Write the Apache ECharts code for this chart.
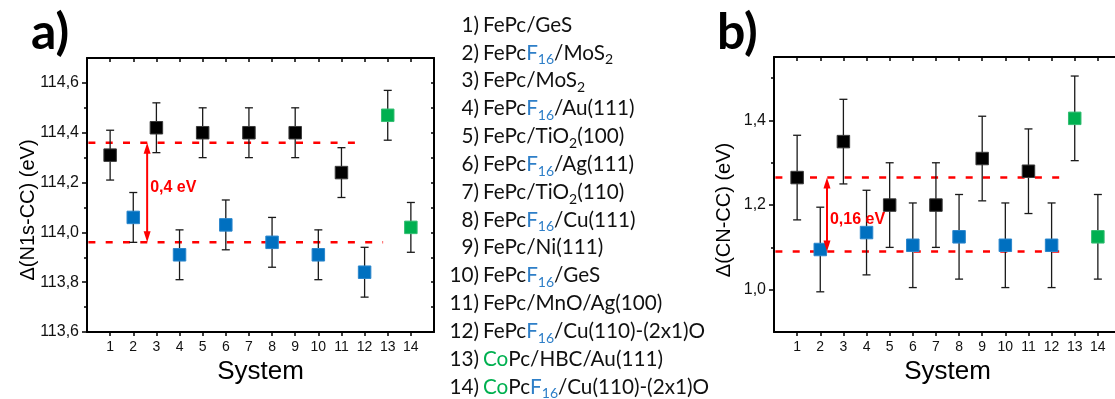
<!DOCTYPE html>
<html>
<head>
<meta charset="utf-8">
<script src="https://cdn.jsdelivr.net/npm/echarts@6/dist/echarts.min.js"></script>
<style>
  html, body { margin: 0; padding: 0; background: #fff; }
  #chart { width: 1115px; height: 399px; }
</style>
</head>
<body>
<div id="chart"></div>
<script>
// Systems 1..14
const systems = [1, 2, 3, 4, 5, 6, 7, 8, 9, 10, 11, 12, 13, 14];
// 0 = FePc, 1 = FePcF16, 2 = CoPc
const family = [0, 1, 0, 1, 0, 1, 0, 1, 0, 1, 0, 1, 2, 2];
const familyColors = ['#000000', '#0070c0', '#00b050'];
const familyEdges = ['#3a3a3a', '#2a86cc', '#33bd72'];

// Δ(N1s-CC) in eV and its uncertainty
const n1sValues = [114.31, 114.06, 114.42, 113.91, 114.40, 114.03, 114.40, 113.96, 114.40, 113.91, 114.24, 113.84, 114.47, 114.02];
const n1sErrors = [0.1, 0.1, 0.1, 0.1, 0.1, 0.1, 0.1, 0.1, 0.1, 0.1, 0.1, 0.1, 0.1, 0.1];
// Δ(CN-CC) in eV and its uncertainty
const cnValues = [1.265, 1.095, 1.35, 1.135, 1.20, 1.105, 1.20, 1.125, 1.31, 1.105, 1.28, 1.105, 1.405, 1.125];
const cnErrors = [0.1, 0.1, 0.1, 0.1, 0.1, 0.1, 0.1, 0.1, 0.1, 0.1, 0.1, 0.1, 0.1, 0.1];

// Reference levels (upper, lower) and how far along the system axis they run
const n1sLevels = [114.36, 113.96];
const n1sLevelEnds = [12.0, 12.8];
const cnLevels = [1.265, 1.09];
const cnLevelEnds = [12.45, 12.45];
// Gap annotation: system position, label height, text
const n1sGap = { x: 2.6, labelY: 114.18, text: '0,4 eV' };
const cnGap = { x: 2.29, labelY: 1.165, text: '0,16 eV' };

// Axis ticks
const n1sMajor = [113.6, 113.8, 114.0, 114.2, 114.4, 114.6];
const n1sMinor = [113.7, 113.9, 114.1, 114.3, 114.5];
const cnMajor = [1.0, 1.2, 1.4];
const cnMinor = [1.1, 1.3, 1.5];

// System names (rich-text markup)
const systemNumbers = ['1)', '2)', '3)', '4)', '5)', '6)', '7)', '8)', '9)', '10)', '11)', '12)', '13)', '14)'];
const systemNames = [
  '{k|FePc/GeS}',
  '{k|FePc}{f|F}{fs|16}{k|/MoS}{ks|2}',
  '{k|FePc/MoS}{ks|2}',
  '{k|FePc}{f|F}{fs|16}{k|/Au(111)}',
  '{k|FePc/TiO}{ks|2}{k|(100)}',
  '{k|FePc}{f|F}{fs|16}{k|/Ag(111)}',
  '{k|FePc/TiO}{ks|2}{k|(110)}',
  '{k|FePc}{f|F}{fs|16}{k|/Cu(111)}',
  '{k|FePc/Ni(111)}',
  '{k|FePc}{f|F}{fs|16}{k|/GeS}',
  '{k|FePc/MnO/Ag(100)}',
  '{k|FePc}{f|F}{fs|16}{k|/Cu(110)-(2x1)O}',
  '{c|Co}{k|Pc/HBC/Au(111)}',
  '{c|Co}{k|Pc}{f|F}{fs|16}{k|/Cu(110)-(2x1)O}'
];

const AXIS_FONT = 'Liberation Sans, Arial, sans-serif';
const LIST_FONT = 'Lato, Carlito, sans-serif';
const RED = '#ff0000';
const LIST_SIZE = 20.7;
const SUB_SIZE = 14;

const comma = v => Number(v).toFixed(1).replace('.', ',');

function errorData(vals, errs) {
  return systems.map((s, i) => [s, vals[i] - errs[i], vals[i] + errs[i]]);
}
function pointData(vals) {
  return systems.map((s, i) => ({
    value: [s, vals[i]],
    itemStyle: { color: familyColors[family[i]], borderColor: familyEdges[family[i]], borderWidth: 1, opacity: 1 }
  }));
}

function renderErrorBar(params, api) {
  const x = api.value(0);
  const top = api.coord([x, api.value(2)]);
  const bot = api.coord([x, api.value(1)]);
  const hw = 4;
  const style = { stroke: '#1a1a1a', lineWidth: 1.3 };
  return {
    type: 'group',
    children: [
      { type: 'line', shape: { x1: top[0], y1: top[1], x2: bot[0], y2: bot[1] }, style },
      { type: 'line', shape: { x1: top[0] - hw, y1: top[1], x2: top[0] + hw, y2: top[1] }, style },
      { type: 'line', shape: { x1: bot[0] - hw, y1: bot[1], x2: bot[0] + hw, y2: bot[1] }, style }
    ]
  };
}

const gapText = { gapA: n1sGap.text, gapB: cnGap.text };
function renderGapArrow(params, api) {
  const x = api.value(0);
  const p1 = api.coord([x, api.value(1)]);
  const p2 = api.coord([x, api.value(2)]);
  const pl = api.coord([x, api.value(3)]);
  const hw = 3.5, hl = 11;
  return {
    type: 'group',
    children: [
      { type: 'line', shape: { x1: p1[0], y1: p1[1] + hl - 1, x2: p2[0], y2: p2[1] - hl + 1 },
        style: { stroke: RED, lineWidth: 2 } },
      { type: 'polygon', shape: { points: [[p1[0], p1[1]], [p1[0] - hw, p1[1] + hl], [p1[0] + hw, p1[1] + hl]] },
        style: { fill: RED } },
      { type: 'polygon', shape: { points: [[p2[0], p2[1]], [p2[0] - hw, p2[1] - hl], [p2[0] + hw, p2[1] - hl]] },
        style: { fill: RED } },
      { type: 'text', x: pl[0] + 3, y: pl[1],
        style: { text: gapText[params.seriesName], fill: RED, font: 'bold 16px ' + AXIS_FONT, verticalAlign: 'middle', align: 'left' } }
    ]
  };
}

function xAxesFor(gi) {
  const line = { show: true, onZero: false, lineStyle: { color: '#000', width: 2 } };
  return [
    {
      gridIndex: gi, type: 'value', position: 'bottom', min: 0, max: 15, interval: 1,
      axisLine: line,
      axisTick: { show: true, inside: false, length: 4, customValues: systems, lineStyle: { color: '#000', width: 1.5 } },
      axisLabel: { show: true, customValues: systems, margin: 8, fontSize: 14, color: '#111', fontFamily: AXIS_FONT },
      splitLine: { show: false },
      name: 'System', nameLocation: 'middle', nameGap: 27,
      nameTextStyle: { fontSize: 26, color: '#000', fontFamily: AXIS_FONT }
    },
    {
      gridIndex: gi, type: 'value', position: 'top', min: 0, max: 15, interval: 1,
      axisLine: line,
      axisTick: { show: true, inside: true, length: 4, customValues: systems, lineStyle: { color: '#000', width: 1.5 } },
      axisLabel: { show: false },
      splitLine: { show: false }
    }
  ];
}

function yAxesFor(gi, min, max, major, minor) {
  const line = { show: true, onZero: false, lineStyle: { color: '#000', width: 2 } };
  const all = major.concat(minor).filter(v => v > min && v < max).sort((a, b) => a - b);
  return [
    {
      gridIndex: gi, type: 'value', position: 'left', min, max,
      axisLine: line,
      axisTick: { show: true, inside: false, length: 5, customValues: major, lineStyle: { color: '#000', width: 1.5 } },
      axisLabel: { show: true, customValues: major, formatter: comma, margin: 8, fontSize: 16, color: '#111', fontFamily: AXIS_FONT },
      splitLine: { show: false }
    },
    {
      gridIndex: gi, type: 'value', position: 'left', min, max,
      axisLine: { show: false },
      axisTick: { show: true, inside: false, length: 3, customValues: minor, lineStyle: { color: '#000', width: 1.5 } },
      axisLabel: { show: false },
      splitLine: { show: false }
    },
    {
      gridIndex: gi, type: 'value', position: 'right', min, max,
      axisLine: line,
      axisTick: { show: true, inside: true, length: 3, customValues: all, lineStyle: { color: '#000', width: 1.5 } },
      axisLabel: { show: false },
      splitLine: { show: false }
    }
  ];
}

function levelSeries(xi, yi, level, end) {
  return {
    type: 'line', xAxisIndex: xi, yAxisIndex: yi, silent: true, showSymbol: false, symbol: 'none', z: 3,
    data: [[0.06, level], [end, level]],
    lineStyle: { color: RED, width: 2.5, type: [7, 10.3] }
  };
}

function panelSeries(xi, yi, vals, errs, levels, ends, gap, gapName) {
  return [
    levelSeries(xi, yi, levels[0], ends[0]),
    levelSeries(xi, yi, levels[1], ends[1]),
    {
      type: 'custom', xAxisIndex: xi, yAxisIndex: yi, silent: true, z: 4,
      renderItem: renderErrorBar,
      encode: { x: 0, y: [1, 2] },
      data: errorData(vals, errs)
    },
    {
      type: 'scatter', xAxisIndex: xi, yAxisIndex: yi, silent: true, z: 5,
      symbol: 'rect', symbolSize: 12.5,
      itemStyle: { opacity: 1 },
      data: pointData(vals)
    },
    {
      type: 'custom', name: gapName, xAxisIndex: xi, yAxisIndex: yi, silent: true, z: 6,
      renderItem: renderGapArrow,
      encode: { x: 0, y: [1, 2] },
      data: [[gap.x, levels[0], levels[1], gap.labelY]]
    }
  ];
}

const chart = echarts.init(document.getElementById('chart'), null, { renderer: 'canvas' });
const lineH = 27.85;
const listTop = 25 - lineH / 2;

chart.setOption({
  animation: false,
  backgroundColor: '#ffffff',
  grid: [
    { left: 87, top: 58, width: 347, height: 274, outerBoundsMode: 'none', containLabel: false },
    { left: 774, top: 57, width: 347, height: 275, outerBoundsMode: 'none', containLabel: false }
  ],
  xAxis: xAxesFor(0).concat(xAxesFor(1)),
  yAxis: yAxesFor(0, 113.6, 114.7, n1sMajor, n1sMinor).concat(yAxesFor(1, 0.9, 1.55, cnMajor, cnMinor)),
  series: panelSeries(0, 0, n1sValues, n1sErrors, n1sLevels, n1sLevelEnds, n1sGap, 'gapA')
    .concat(panelSeries(2, 3, cnValues, cnErrors, cnLevels, cnLevelEnds, cnGap, 'gapB')),
  graphic: [
    { type: 'text', left: 31, top: 8, style: { text: 'a)', font: 'bold 50px ' + LIST_FONT, fill: '#000' } },
    { type: 'text', left: 717, top: 8, style: { text: 'b)', font: 'bold 50px ' + LIST_FONT, fill: '#000' } },
    { type: 'text', x: 28, y: 210, rotation: Math.PI / 2,
      style: { text: 'Δ(N1s-CC) (eV)', font: '20px ' + AXIS_FONT, fill: '#000', align: 'center', verticalAlign: 'middle' } },
    { type: 'text', x: 724, y: 210, rotation: Math.PI / 2,
      style: { text: 'Δ(CN-CC) (eV)', font: '20px ' + AXIS_FONT, fill: '#000', align: 'center', verticalAlign: 'middle' } },
    { type: 'text', x: 479, y: listTop,
      style: { text: systemNumbers.join('\n'), font: LIST_SIZE + 'px ' + LIST_FONT, fill: '#111', align: 'right', verticalAlign: 'top', lineHeight: lineH } },
    { type: 'text', x: 483, y: listTop,
      style: {
        text: systemNames.join('\n'), align: 'left', verticalAlign: 'top', lineHeight: lineH,
        font: LIST_SIZE + 'px ' + LIST_FONT, fill: '#111',
        rich: {
          k: { fontSize: LIST_SIZE, fontFamily: LIST_FONT, fill: '#111', lineHeight: lineH },
          ks: { fontSize: SUB_SIZE, fontFamily: LIST_FONT, fill: '#111', lineHeight: 13, verticalAlign: 'bottom' },
          f: { fontSize: LIST_SIZE, fontFamily: LIST_FONT, fill: '#2e7fc8', lineHeight: lineH },
          fs: { fontSize: SUB_SIZE, fontFamily: LIST_FONT, fill: '#2e7fc8', lineHeight: 13, verticalAlign: 'bottom' },
          c: { fontSize: LIST_SIZE, fontFamily: LIST_FONT, fill: '#00b050', lineHeight: lineH }
        }
      } }
  ]
});
</script>
</body>
</html>
